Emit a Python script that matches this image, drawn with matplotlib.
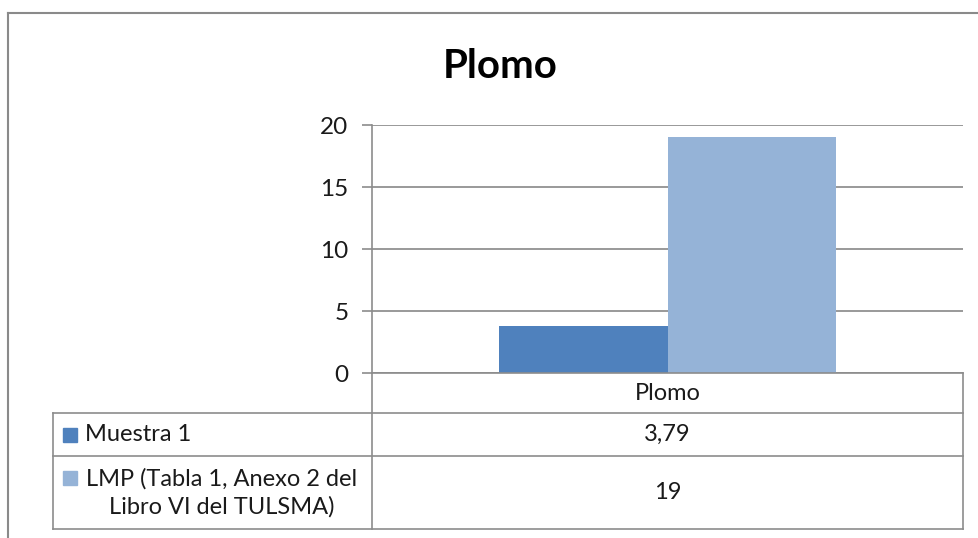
import matplotlib
matplotlib.use("Agg")
import matplotlib.pyplot as plt
from matplotlib.lines import Line2D
from matplotlib.patches import Rectangle

# ---- data ----
title = "Plomo"
categories = ["Plomo"]
series_names = ["Muestra 1", "LMP (Tabla 1, Anexo 2 del\nLibro VI del TULSMA)"]
muestra = [3.79]
lmp = [19]
series_values = [muestra, lmp]
series_colors = ["#4F81BD", "#95B3D7"]
yticks = [0, 5, 10, 15, 20]

W, H = 979, 538
FONT = "Lato"
TXT = "#1a1a1a"
GRID = "#878787"
LINE = "#8c8c8c"

fig = plt.figure(figsize=(W / 100, H / 100), dpi=100)
fig.patch.set_facecolor("white")


def fx(x):
    return x / W


def fy(y):
    return 1 - y / H


def hline(x0, x1, y, color=LINE, lw=1.2):
    fig.add_artist(Line2D([fx(x0), fx(x1)], [fy(y), fy(y)], color=color, lw=lw,
                          transform=fig.transFigure))


def vline(x, y0, y1, color=LINE, lw=1.2):
    fig.add_artist(Line2D([fx(x), fx(x)], [fy(y0), fy(y1)], color=color, lw=lw,
                          transform=fig.transFigure))


# plot area
px_l, px_r, px_t, px_b = 372, 963, 125, 373
ax = fig.add_axes([fx(px_l), fy(px_b), fx(px_r) - fx(px_l), (px_b - px_t) / H])
ax.set_xlim(-0.5, len(categories) - 0.5)
ax.set_ylim(min(yticks), max(yticks))

n = len(series_values)
width = 1 / (n + 1.5)  # Excel gap width 150 %
for i, (vals, col) in enumerate(zip(series_values, series_colors)):
    xs = [c + (i - (n - 1) / 2) * width for c in range(len(categories))]
    ax.bar(xs, vals, width=width, color=col, edgecolor="none", zorder=3)

ax.set_yticks(yticks)
ax.set_yticklabels([str(t) for t in yticks], fontsize=17.5, family=FONT, color=TXT)
ax.set_xticks([])
ax.grid(axis="y", color=GRID, lw=1.2, zorder=0)
for s in ["top", "right", "bottom"]:
    ax.spines[s].set_visible(False)
ax.spines["left"].set_color(LINE)
ax.spines["left"].set_linewidth(1.2)
ax.tick_params(axis="y", length=7, width=1.2, color=LINE, pad=10)

# outer chart frame (cropped on right/bottom)
hline(8, W, 13, color="#8a8a8a", lw=1.5)
vline(8, 13, H, color="#8a8a8a", lw=1.5)

# title
fig.text(fx(500), fy(66), title, ha="center", va="center", fontsize=29,
         fontweight="bold", family=FONT, color="#000000")

# data table
tbl_l, tbl_r = 53, 963
row_y = [373, 413, 456, 529]
hline(px_l, tbl_r, row_y[0])
hline(tbl_l, tbl_r, row_y[1])
hline(tbl_l, tbl_r, row_y[2])
hline(tbl_l, tbl_r, row_y[3])
vline(tbl_l, row_y[1], row_y[3])
vline(px_l, px_b, row_y[3])
vline(tbl_r, row_y[0], row_y[3])

col_c = (px_l + px_r) / 2
fig.text(fx(col_c), fy((row_y[0] + row_y[1]) / 2), categories[0], ha="center",
         va="center", fontsize=17, family=FONT, color=TXT)


def fmt(v):
    return f"{v:g}".replace(".", ",")


for i, (name, vals, col) in enumerate(zip(series_names, series_values, series_colors)):
    y0, y1 = row_y[i + 1], row_y[i + 2]
    yc = (y0 + y1) / 2
    fig.text(fx(col_c), fy(yc), fmt(vals[0]), ha="center", va="center",
             fontsize=17, family=FONT, color=TXT)
    lines = name.split("\n")
    if len(lines) == 1:
        fig.add_artist(Rectangle((fx(63), fy(yc + 7)), 14 / W, 14 / H, color=col,
                                 transform=fig.transFigure))
        fig.text(fx(85), fy(yc), name, ha="left", va="center", fontsize=17,
                 family=FONT, color=TXT)
    else:
        fig.add_artist(Rectangle((fx(63), fy(yc - 8)), 14 / W, 14 / H, color=col,
                                 transform=fig.transFigure))
        fig.text(fx(222), fy(yc), name, ha="center", va="center", fontsize=17,
                 family=FONT, color=TXT, linespacing=1.35, multialignment="center")

fig.savefig("out.png", dpi=100, facecolor="white")
